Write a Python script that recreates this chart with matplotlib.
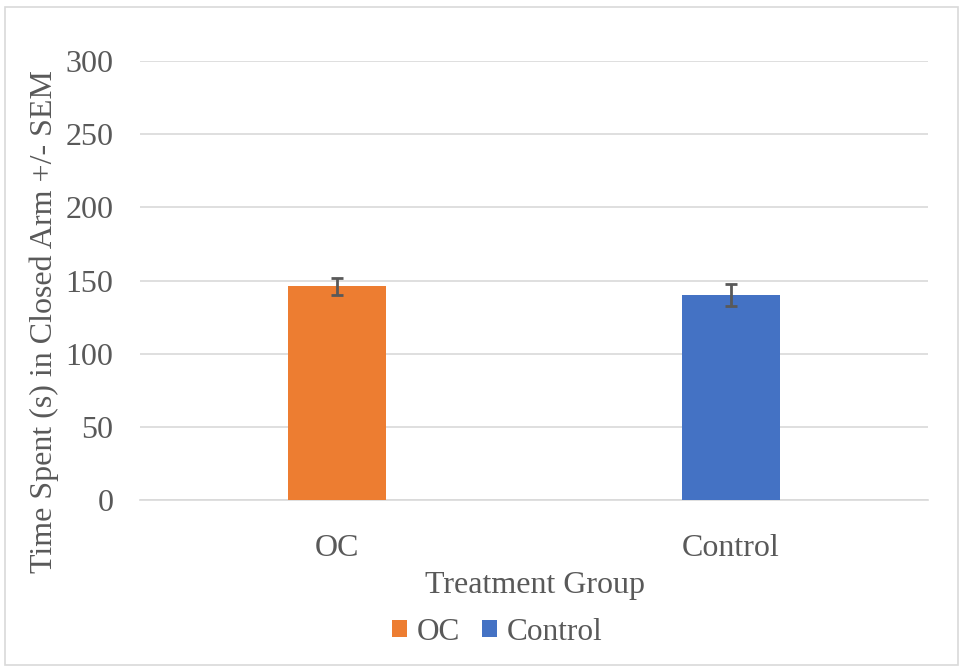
import matplotlib
matplotlib.use("Agg")
import matplotlib.pyplot as plt
from matplotlib.patches import Rectangle

categories = ["OC", "Control"]
means = [146, 140]
sems = [6, 7.5]
colors = ["#ED7D31", "#4472C4"]
yticks = [0, 50, 100, 150, 200, 250, 300]

plt.rcParams['font.family'] = ['Liberation Serif', 'DejaVu Serif']
txt = "#595959"
FS = 23
W, H = 964, 671

fig = plt.figure(figsize=(W/100, H/100), dpi=100)
ax = fig.add_axes([140/W, 1-500/H, (928-140)/W, (500-61)/H])

x = list(range(len(categories)))
bars = ax.bar(x, means, width=0.25, color=colors, label=categories, zorder=3)
ax.errorbar(x, means, yerr=sems, fmt='none', ecolor="#595959", elinewidth=2,
            capsize=4.5, capthick=2, zorder=4)

ax.set_xlim(-0.5, 1.5)
ax.set_ylim(0, 300)
ax.set_yticks(yticks)
ax.set_xticks(x)
ax.set_xticklabels(categories)
ax.grid(axis='y', color="#d9d9d9", linewidth=1.2, zorder=0)
for s in ["top", "right", "left"]:
    ax.spines[s].set_visible(False)
ax.spines["bottom"].set_color("#d9d9d9")
ax.spines["bottom"].set_linewidth(1.2)
ax.tick_params(length=0, labelsize=FS, colors=txt)
ax.tick_params(axis='y', pad=19)
ax.tick_params(axis='x', pad=24.5)

fig.text(535/W, 1-593/H, "Treatment Group", fontsize=23, color=txt,
         ha='center', va='baseline')
fig.text(52/W, 1-321.5/H, "Time Spent (s) in Closed Arm +/- SEM", fontsize=23,
         color=txt, rotation=90, rotation_mode='anchor', ha='center', va='baseline')

leg = fig.legend(handles=bars.patches, labels=categories, loc='center',
                 bbox_to_anchor=(497/W, 1-632/H), ncol=2, frameon=False,
                 fontsize=22.5, handlelength=0.48, handleheight=0.48,
                 handletextpad=0.32, columnspacing=0.7)
for t in leg.get_texts():
    t.set_color(txt)

fig.patches.append(Rectangle((5/W, 1-665/H), (958-5)/W, (665-7)/H,
                             transform=fig.transFigure, fill=False,
                             edgecolor="#d9d9d9", linewidth=1.2))

fig.savefig("out.png", dpi=100)
